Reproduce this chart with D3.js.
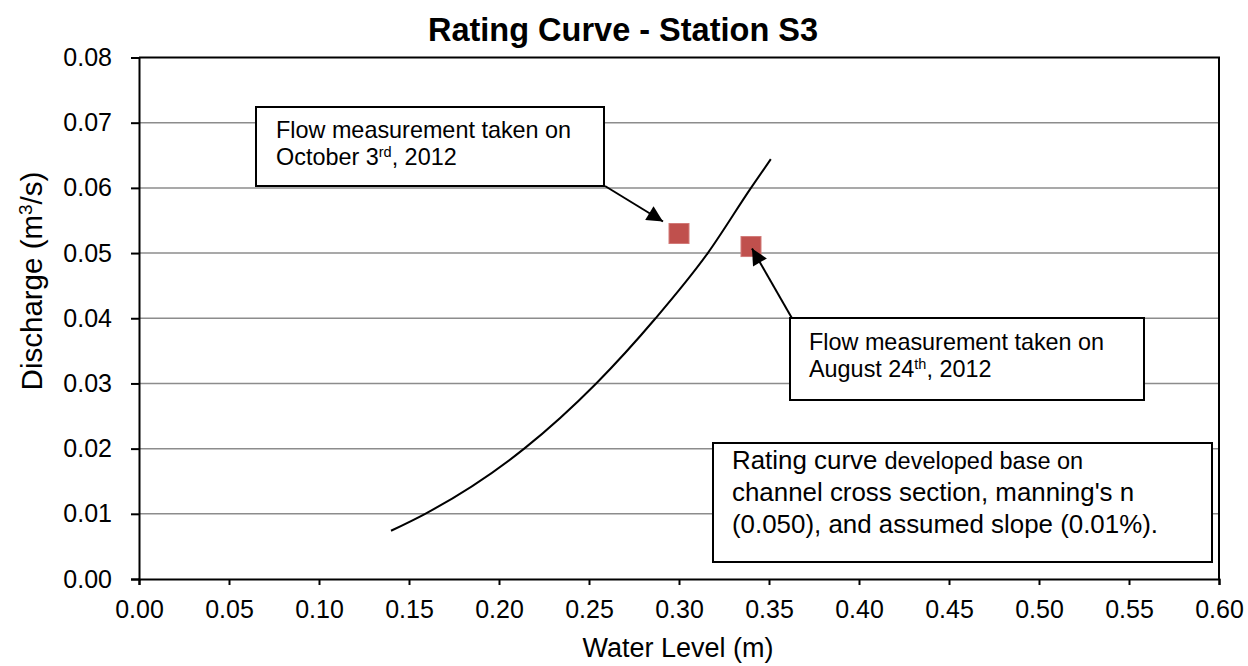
<!DOCTYPE html>
<html>
<head>
<meta charset="utf-8">
<script src="https://cdn.jsdelivr.net/npm/d3@7"></script>
<style>
  html, body { margin: 0; padding: 0; background: #fff; }
  svg { display: block; font-family: "Liberation Sans", Arial, sans-serif; }
</style>
</head>
<body>
<svg id="chart" width="1248" height="666"></svg>
<script>
// Rating curve (computed from channel geometry) — water level (m) vs discharge (m³/s)
const curveLevel     = [0.140, 0.159, 0.214, 0.254, 0.287, 0.316, 0.340, 0.351];
const curveDischarge = [0.0074, 0.010, 0.020, 0.030, 0.040, 0.050, 0.060, 0.0644];

// Field flow measurements
const measLevel     = [0.30, 0.34];
const measDischarge = [0.053, 0.051];

// Axis ticks
const xTicks = [0, 0.05, 0.10, 0.15, 0.20, 0.25, 0.30, 0.35, 0.40, 0.45, 0.50, 0.55, 0.60];
const yTicks = [0, 0.01, 0.02, 0.03, 0.04, 0.05, 0.06, 0.07, 0.08];

const svg = d3.select("#chart");
const plot = { left: 139, right: 1219, top: 57.5, bottom: 579 };

const x = d3.scaleLinear().domain([0, 0.6]).range([plot.left, plot.right]);
const y = d3.scaleLinear().domain([0, 0.08]).range([plot.bottom, plot.top]);
const fmt = d3.format(".2f");

// Horizontal gridlines
svg.append("g")
  .selectAll("line")
  .data(yTicks.slice(1, -1))
  .join("line")
  .attr("x1", plot.left).attr("x2", plot.right)
  .attr("y1", d => y(d)).attr("y2", d => y(d))
  .attr("stroke", "#8c8c8c").attr("stroke-width", 1.5);

// Plot-area frame (top and right edges)
svg.append("path")
  .attr("d", `M${plot.left},${plot.top}H${plot.right}V${plot.bottom}`)
  .attr("fill", "none").attr("stroke", "#000").attr("stroke-width", 2);

// Axes
const xAxis = svg.append("g")
  .attr("transform", `translate(0,${plot.bottom})`)
  .call(d3.axisBottom(x).tickValues(xTicks).tickFormat(fmt).tickSize(6).tickPadding(15));
const yAxis = svg.append("g")
  .attr("transform", `translate(${plot.left},0)`)
  .call(d3.axisLeft(y).tickValues(yTicks).tickFormat(fmt).tickSize(8).tickPadding(19));

[xAxis, yAxis].forEach(g => {
  g.select(".domain").attr("stroke", "#000").attr("stroke-width", 2);
  g.selectAll(".tick line").attr("stroke", "#000").attr("stroke-width", 2);
  g.selectAll(".tick text")
    .attr("fill", "#000")
    .style("font-family", "'Liberation Sans', Arial, sans-serif")
    .style("font-size", "25px");
});

// Rating curve line
const curvePts = curveLevel.map((h, i) => [h, curveDischarge[i]]);
svg.append("path")
  .datum(curvePts)
  .attr("fill", "none")
  .attr("stroke", "#000")
  .attr("stroke-width", 2)
  .attr("d", d3.line().x(d => x(d[0])).y(d => y(d[1])).curve(d3.curveMonotoneX));

// Measured points (square markers)
const sq = 20;
svg.append("g")
  .selectAll("rect")
  .data(measLevel.map((h, i) => [h, measDischarge[i]]))
  .join("rect")
  .attr("x", d => x(d[0]) - sq / 2)
  .attr("y", d => y(d[1]) - sq / 2)
  .attr("width", sq).attr("height", sq)
  .attr("fill", "#c0504d")
  .attr("stroke", "#d27a78").attr("stroke-width", 1);

// Arrowhead marker
svg.append("defs").append("marker")
  .attr("id", "arrow")
  .attr("viewBox", "0 0 10 10")
  .attr("refX", 10).attr("refY", 5)
  .attr("markerWidth", 9).attr("markerHeight", 8)
  .attr("markerUnits", "strokeWidth")
  .attr("orient", "auto")
  .append("path").attr("d", "M0,0L10,5L0,10Z").attr("fill", "#000");

// Callout boxes
function callout(bx, by, bw, bh, lines, fs, tx, firstBase, lineGap) {
  const g = svg.append("g");
  g.append("rect")
    .attr("x", bx).attr("y", by).attr("width", bw).attr("height", bh)
    .attr("fill", "#fff").attr("stroke", "#000").attr("stroke-width", 2);
  lines.forEach((parts, i) => {
    const t = g.append("text")
      .attr("x", tx).attr("y", by + firstBase + i * lineGap)
      .attr("fill", "#000").style("font-size", fs + "px");
    parts.forEach(p => {
      const span = t.append("tspan").text(p.t);
      if (p.sup) span.attr("baseline-shift", "super").style("font-size", (fs * 0.62) + "px");
      if (p.fs) span.style("font-size", p.fs + "px");
    });
  });
  return g;
}

const p0 = [x(measLevel[0]), y(measDischarge[0])];
const p1 = [x(measLevel[1]), y(measDischarge[1])];

// Arrows from the callouts to the measured points
svg.append("line")
  .attr("x1", 605).attr("y1", 186)
  .attr("x2", p0[0] - 16).attr("y2", p0[1] - 12)
  .attr("stroke", "#000").attr("stroke-width", 2)
  .attr("marker-end", "url(#arrow)");
svg.append("line")
  .attr("x1", 793).attr("y1", 320)
  .attr("x2", p1[0] + 1).attr("y2", p1[1] + 2)
  .attr("stroke", "#000").attr("stroke-width", 2)
  .attr("marker-end", "url(#arrow)");

callout(256, 107, 348, 79,
  [[{ t: "Flow measurement taken on" }],
   [{ t: "October 3" }, { t: "rd", sup: true }, { t: ", 2012" }]],
  23.4, 276, 31, 27);

callout(790, 318, 354, 82,
  [[{ t: "Flow measurement taken on" }],
   [{ t: "August 24" }, { t: "th", sup: true }, { t: ", 2012" }]],
  23.4, 809, 32, 27);

callout(713, 443, 499, 119,
  [[{ t: "Rating curve " }, { t: "developed base on", fs: 23.5 }],
   [{ t: "channel cross section, manning's n" }],
   [{ t: "(0.050), and assumed slope (0.01%)." }]],
  25.9, 732, 26, 32);

// Title
svg.append("text")
  .attr("x", 623).attr("y", 41)
  .attr("text-anchor", "middle")
  .style("font-size", "32.5px").style("font-weight", "bold")
  .text("Rating Curve - Station S3");

// Axis titles
svg.append("text")
  .attr("x", 678).attr("y", 657)
  .attr("text-anchor", "middle")
  .style("font-size", "27px")
  .text("Water Level (m)");

const yl = svg.append("text")
  .attr("transform", `translate(42,281) rotate(-90)`)
  .attr("text-anchor", "middle")
  .style("font-size", "29.5px");
yl.append("tspan").text("Discharge (m");
yl.append("tspan").text("3").attr("baseline-shift", "super").style("font-size", "19px");
yl.append("tspan").text("/s)");
</script>
</body>
</html>
